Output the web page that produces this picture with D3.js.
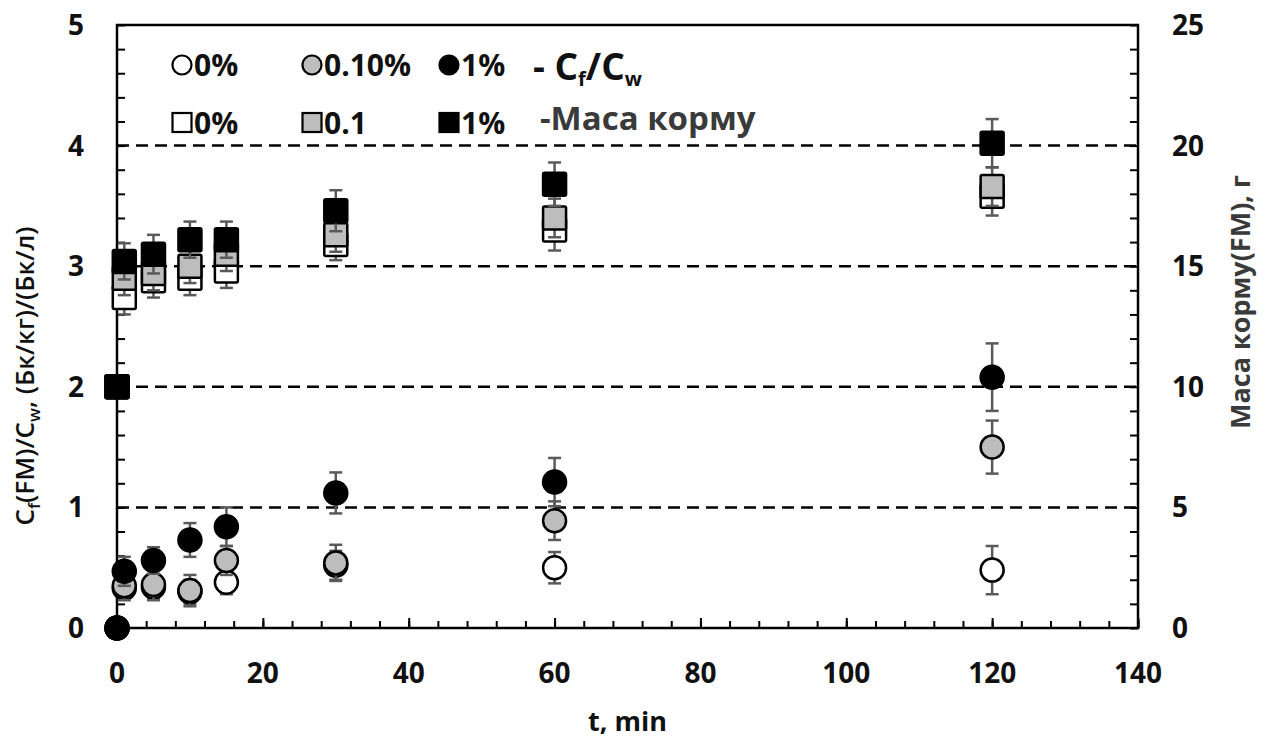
<!DOCTYPE html>
<html><head><meta charset="utf-8">
<script src="https://cdn.jsdelivr.net/npm/d3@7"></script>
<style>body{margin:0;background:#fff}svg{display:block}</style>
</head><body><svg id="c" width="1271" height="744"></svg>
<script>
// ---- data ----
const times = [0, 1, 5, 10, 15, 30, 60, 120];
// Cf/Cw (left axis)
const ratio0 = [0, 0.33, 0.34, 0.30, 0.38, 0.52, 0.50, 0.48];
const ratio0Err = [0, 0.08, 0.10, 0.10, 0.10, 0.12, 0.13, 0.20];
const ratio01 = [0, 0.35, 0.36, 0.31, 0.56, 0.54, 0.89, 1.50];
const ratio01Err = [0, 0.12, 0.13, 0.13, 0.12, 0.15, 0.16, 0.22];
const ratio1 = [0, 0.47, 0.56, 0.73, 0.84, 1.12, 1.21, 2.08];
const ratio1Err = [0, 0.12, 0.11, 0.14, 0.16, 0.17, 0.20, 0.28];
// feed mass, g (right axis)
const mass0 = [10, 13.7, 14.4, 14.5, 14.8, 15.9, 16.5, 17.9];
const mass0Err = [0, 0.7, 0.7, 0.7, 0.7, 0.65, 0.85, 0.8];
const mass01 = [10, 14.5, 14.7, 15.0, 15.5, 16.3, 17.0, 18.3];
const mass01Err = [0, 0.7, 0.7, 0.7, 0.7, 0.7, 0.8, 0.8];
const mass1 = [10, 15.2, 15.5, 16.1, 16.1, 17.3, 18.4, 20.1];
const mass1Err = [0, 0.75, 0.8, 0.75, 0.75, 0.85, 0.9, 1.0];
const xTicks = [0, 20, 40, 60, 80, 100, 120, 140];
const yLeftTicks = [0, 1, 2, 3, 4, 5];
const yRightTicks = [0, 5, 10, 15, 20, 25];
const gridValues = [1, 2, 3, 4];

// ---- layout ----
const L = 117, R = 1138, T = 25, B = 628;
const svg = d3.select('#c');
const x = d3.scaleLinear().domain([0, 140]).range([L, R]);
const yL = d3.scaleLinear().domain([0, 5]).range([B, T]);
const yR = d3.scaleLinear().domain([0, 25]).range([B, T]);
const FONT = "'Open Sans', 'DejaVu Sans', sans-serif";
const GRAY = '#bdbdbd', ERR = '#5a5a5a';

// grid
svg.append('g').selectAll('line').data(gridValues).join('line')
  .attr('x1', L).attr('x2', R).attr('y1', d => yL(d)).attr('y2', d => yL(d))
  .attr('stroke', '#000').attr('stroke-width', 2.5).attr('stroke-dasharray', '12,7');

// axes (ticks inside)
const ax = svg.append('g').attr('transform', `translate(0,${B})`)
  .call(d3.axisBottom(x).tickValues(d3.range(0, 141, 4)).tickSize(-7).tickFormat(''));
ax.append('g').call(d3.axisBottom(x).tickValues(xTicks).tickSize(-10).tickFormat(''));
svg.append('g').attr('transform', `translate(${L},0)`)
  .call(d3.axisLeft(yL).tickValues(d3.range(0, 5.01, 0.2)).tickSize(-8).tickFormat(''));
svg.append('g').attr('transform', `translate(${R},0)`)
  .call(d3.axisRight(yR).tickValues(d3.range(0, 25.01, 1)).tickSize(-8).tickFormat(''));
svg.selectAll('.domain').remove();
svg.selectAll('.tick line').attr('stroke', '#000').attr('stroke-width', 2);
// frame
svg.append('rect').attr('x', L).attr('y', T).attr('width', R - L).attr('height', B - T)
  .attr('fill', 'none').attr('stroke', '#000').attr('stroke-width', 2.5);

// tick labels
const lab = svg.append('g').attr('font-family', FONT).attr('font-weight', 700).attr('font-size', 28).attr('fill', '#111');
lab.selectAll('.xl').data(xTicks).join('text').attr('class', 'xl')
  .attr('x', d => x(d)).attr('y', 683).attr('text-anchor', 'middle').text(d => d);
lab.selectAll('.yl').data(yLeftTicks).join('text').attr('class', 'yl')
  .attr('x', 84).attr('y', d => yL(d) + 10).attr('text-anchor', 'end').text(d => d);
lab.selectAll('.yr').data(yRightTicks).join('text').attr('class', 'yr')
  .attr('x', 1172).attr('y', d => yR(d) + 10).attr('text-anchor', 'start').text(d => d);

// axis titles
svg.append('text').attr('x', x(70)).attr('y', 731).attr('text-anchor', 'middle')
  .attr('font-family', FONT).attr('font-weight', 700).attr('font-size', 27).attr('fill', '#111').text('t, min');
const lt = svg.append('text').attr('transform', 'translate(34,376) rotate(-90)').attr('text-anchor', 'middle')
  .attr('font-family', FONT).attr('font-weight', 600).attr('font-size', 26).attr('fill', '#111');
lt.append('tspan').text('C');
lt.append('tspan').attr('font-size', 17).attr('dy', 6).text('f');
lt.append('tspan').attr('dy', -6).text('(FM)/C');
lt.append('tspan').attr('font-size', 17).attr('dy', 6).text('w');
lt.append('tspan').attr('dy', -6).text(', (Бк/кг)/(Бк/л)');
svg.append('text').attr('transform', 'translate(1250,302) rotate(-90)').attr('text-anchor', 'middle')
  .attr('font-family', FONT).attr('font-weight', 700).attr('font-size', 27).attr('fill', '#3a3a3a')
  .text('Маса корму(FM), г');

// series
function errBars(g, vals, errs, y) {
  const d = times.map((t, i) => ({t, v: vals[i], e: errs[i]})).filter(o => o.e > 0);
  g.selectAll('.ev').data(d).join('line').attr('class', 'ev')
    .attr('x1', o => x(o.t)).attr('x2', o => x(o.t)).attr('y1', o => y(o.v - o.e)).attr('y2', o => y(o.v + o.e));
  ['lo', 'hi'].forEach(k => {
    g.selectAll('.c' + k).data(d).join('line').attr('class', 'c' + k)
      .attr('x1', o => x(o.t) - 6.5).attr('x2', o => x(o.t) + 6.5)
      .attr('y1', o => y(k === 'lo' ? o.v - o.e : o.v + o.e)).attr('y2', o => y(k === 'lo' ? o.v - o.e : o.v + o.e));
  });
  g.selectAll('line').attr('stroke', ERR).attr('stroke-width', 2.5);
}
function squares(vals, errs, fill) {
  const g = svg.append('g');
  errBars(g.append('g'), vals, errs, yR);
  g.selectAll('rect').data(times.map((t, i) => ({t, v: vals[i]}))).join('rect')
    .attr('x', o => x(o.t) - 11.5).attr('y', o => yR(o.v) - 11.5).attr('width', 23).attr('height', 23)
    .attr('rx', 1.5).attr('fill', fill).attr('stroke', '#000').attr('stroke-width', 2.5);
}
function circles(vals, errs, fill) {
  const g = svg.append('g');
  errBars(g.append('g'), vals, errs, yL);
  g.selectAll('circle').data(times.map((t, i) => ({t, v: vals[i]}))).join('circle')
    .attr('cx', o => x(o.t)).attr('cy', o => yL(o.v)).attr('r', 11.5)
    .attr('fill', fill).attr('stroke', '#000').attr('stroke-width', 2.5);
}
squares(mass0, mass0Err, '#fff');
squares(mass01, mass01Err, GRAY);
squares(mass1, mass1Err, '#000');
circles(ratio0, ratio0Err, '#fff');
circles(ratio01, ratio01Err, GRAY);
circles(ratio1, ratio1Err, '#000');

// legend
const lg = svg.append('g').attr('font-family', FONT).attr('font-weight', 700).attr('fill', '#111');
const legCircles = [{x: 182, f: '#fff', t: '0%'}, {x: 312, f: GRAY, t: '0.10%'}, {x: 449, f: '#000', t: '1%'}];
const legSquares = [{x: 182, f: '#fff', t: '0%'}, {x: 312, f: GRAY, t: '0.1'}, {x: 449, f: '#000', t: '1%'}];
legCircles.forEach(o => {
  lg.append('circle').attr('cx', o.x).attr('cy', 65).attr('r', 9.5).attr('fill', o.f).attr('stroke', '#000').attr('stroke-width', 2.2);
  lg.append('text').attr('x', o.x + 12).attr('y', 76).attr('font-size', 30).text(o.t);
});
legSquares.forEach(o => {
  lg.append('rect').attr('x', o.x - 9.5).attr('y', 113).attr('width', 19).attr('height', 19).attr('fill', o.f).attr('stroke', '#000').attr('stroke-width', 2.2);
  lg.append('text').attr('x', o.x + 12).attr('y', 134).attr('font-size', 30).text(o.t);
});
const t1 = lg.append('text').attr('x', 533).attr('y', 80).attr('font-size', 37);
t1.append('tspan').text('- C');
t1.append('tspan').attr('font-size', 20).attr('dy', 6).text('f');
t1.append('tspan').attr('dy', -6).text('/C');
t1.append('tspan').attr('font-size', 20).attr('dy', 6).text('w');
lg.append('text').attr('x', 540).attr('y', 130).attr('font-size', 33).attr('fill', '#3a3a3a').text('-Маса корму');
</script></body></html>
